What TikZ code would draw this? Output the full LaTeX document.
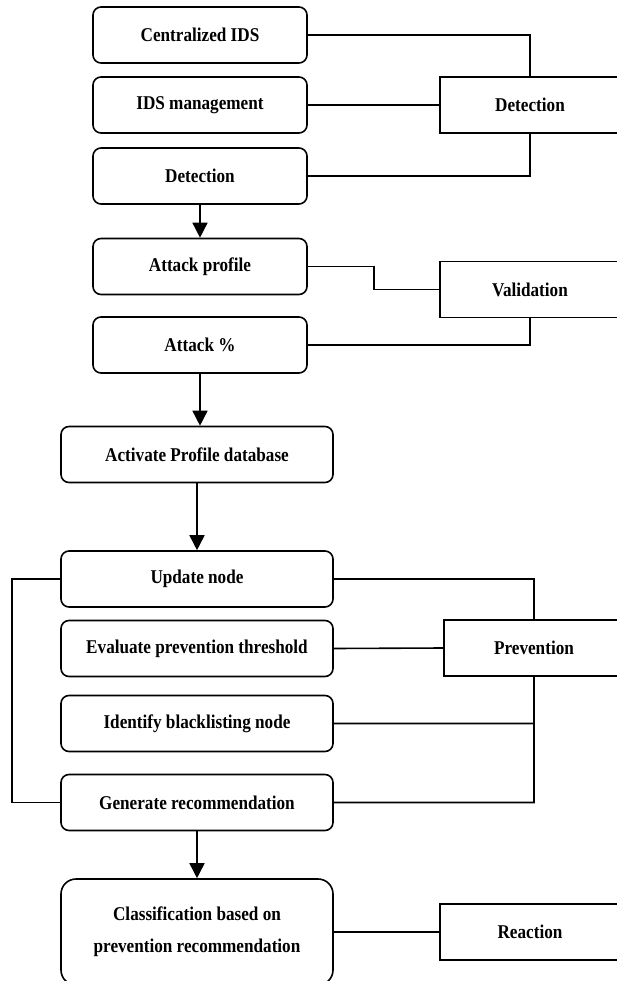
\documentclass[tikz,border=0pt]{standalone}
\usepackage{fontspec}
\setmainfont{Liberation Serif}[FakeStretch=0.88]
\usetikzlibrary{arrows.meta}
\begin{document}
\begin{tikzpicture}[x=1pt,y=-1pt,line width=1.6pt,font=\fontsize{19.5}{32}\selectfont\bfseries,
 bx/.style={draw,rounded corners=8pt,minimum width=214pt,minimum height=56pt,inner sep=0pt},
 wbx/.style={bx,minimum width=272pt},
 sbx/.style={draw,minimum width=180pt,minimum height=56pt,inner sep=0pt},
 arr/.style={-{Triangle[length=15pt,width=15pt]}}]
\clip (0,0) rectangle (617,981);
\path (200,35) node[bx] (C) {Centralized IDS} ++(0,70) node[bx] (M) {IDS management} ++(0,71) node[bx] (D) {Detection}
 ++(0,90.5) node[bx] (P) {Attack profile} ++(0,78.5) node[bx] (K) {Attack \%}
 (197,454.5) node[wbx] (A) {Activate Profile database} ++(0,124.5) node[wbx] (U) {Update node} ++(0,69.5) node[wbx] (E) {Evaluate prevention threshold}
 ++(0,75) node[wbx] (I) {Identify blacklisting node} ++(0,79) node[wbx] (G) {Generate recommendation}
 (197,932) node[wbx,rounded corners=15pt,minimum height=106pt,align=center] (L) {Classification based on\\prevention recommendation};
\path (530,105) node[sbx] (DR) {Detection} (530,289.5) node[sbx] (V) {Validation} (534,648) node[sbx] (PR) {Prevention} (530,932) node[sbx] (R) {Reaction};
\draw (C.east) -| (DR.north) (M.east) -- (DR.west) (D.east) -| (DR.south);
\draw (P.east) -- ++(66,0) |- (V.west) (K.east) -| (V.south);
\draw (U.east) -| (PR.north) (E.east) -- (PR.west) (PR.south) |- (G.east) (I.east) -- (I.east -| PR.south);
\draw (U.west) -- ++(-48,0) |- (G.west);
\draw (L.east) -- (R.west);
\foreach \a/\b in {D/P, A/U, G/L} \draw[arr] (\a.south) -- (\b.north);
\draw[arr] (K.south) -- ([xshift=3pt]A.north);
\end{tikzpicture}
\end{document}
